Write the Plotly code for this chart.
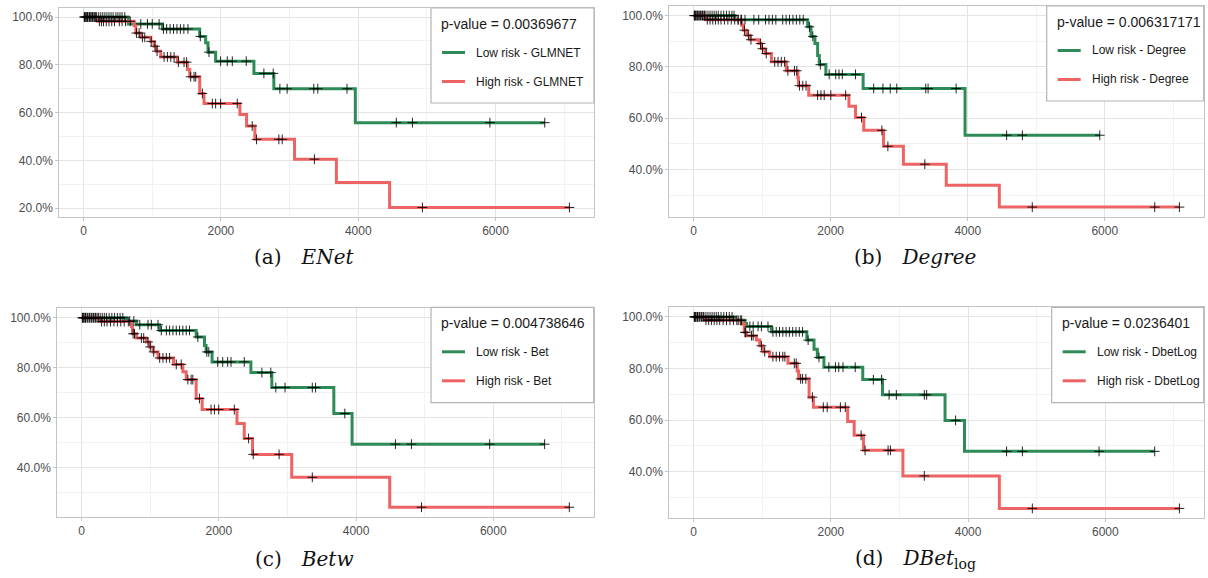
import plotly.graph_objects as go

# ---------------- data: Kaplan-Meier step curves (time in days, survival in %) ----------------
# (a) ENet
enet_low_t = [650, 1148, 1691, 1778, 1812, 1923, 2481, 2771, 3958]
enet_low_s = [97.1, 95.0, 91.9, 89.2, 85.3, 81.5, 76.4, 70.0, 55.8]
enet_low_cens = [15, 40, 60, 85, 110, 130, 160, 190, 220, 250, 280, 310, 340, 370, 400, 430, 470,
                 500, 530, 560, 600, 833, 930, 1000, 1100, 1163, 1210, 1260, 1310, 1360, 1410, 1460,
                 1520, 1700, 1826, 1996, 2093, 2166, 2369, 2626, 2762, 2859, 2965, 3353, 3411, 3837,
                 4555, 4790, 5918, 6717]
enet_high_t = [203, 736, 761, 833, 979, 1027, 1061, 1124, 1366, 1512, 1546, 1691, 1754, 2277,
               2374, 2495, 3072, 3682, 4457]
enet_high_s = [98.2, 96.5, 93.3, 91.5, 89.8, 87.8, 85.7, 83.3, 81.1, 78.0, 75.0, 68.0, 63.8, 59.2,
               54.4, 48.8, 40.5, 30.7, 20.3]
enet_high_cens = [10, 30, 55, 80, 105, 140, 175, 230, 260, 290, 330, 370, 410, 450, 520, 560, 610,
                  680, 770, 809, 857, 891, 985, 1040, 1070, 1172, 1221, 1270, 1318, 1381, 1463, 1500,
                  1560, 1609, 1633, 1730, 1875, 1923, 1996, 2238, 2456, 2519, 2844, 2893, 3362, 4935,
                  7076]
enet_pvalue = "0.00369677"

# (b) Degree
deg_low_t = [606, 1665, 1713, 1771, 1810, 1834, 1930, 2474, 3961]
deg_low_s = [98.4, 95.6, 91.9, 89.1, 84.5, 80.9, 77.1, 71.6, 53.4]
deg_low_cens = [15, 35, 60, 90, 120, 150, 180, 210, 240, 270, 300, 330, 360, 400, 440, 480, 520,
                560, 590, 650, 700, 750, 880, 950, 1050, 1100, 1150, 1200, 1300, 1350, 1400, 1450,
                1500, 1550, 1600, 1690, 1740, 1850, 1978, 2074, 2122, 2170, 2363, 2628, 2763, 2869,
                2965, 3388, 3422, 3831, 4568, 4798, 5927]
deg_high_t = [173, 703, 727, 775, 823, 953, 991, 1040, 1136, 1352, 1521, 1530, 1680, 2267, 2363,
              2483, 2772, 3061, 3687, 4461]
deg_high_s = [98.4, 96.2, 94.3, 92.3, 90.6, 89.1, 87.1, 85.2, 82.0, 78.5, 75.8, 72.7, 69.0, 64.7,
              60.3, 55.3, 49.1, 42.1, 33.9, 25.4]
deg_high_cens = [10, 30, 50, 75, 100, 130, 160, 200, 240, 280, 320, 360, 400, 450, 500, 550, 600,
                 650, 690, 742, 799, 837, 977, 1005, 1060, 1184, 1232, 1280, 1328, 1376, 1472, 1506,
                 1545, 1593, 1641, 1810, 1858, 1906, 2002, 2219, 2450, 2748, 2835, 3374, 4942, 6729,
                 7089]
deg_pvalue = "0.006317171"

# (c) Betw
bet_low_t = [653, 798, 1137, 1669, 1790, 1814, 1901, 2467, 2772, 3676, 3942]
bet_low_s = [98.7, 97.2, 94.9, 92.3, 88.9, 86.3, 82.3, 78.0, 72.0, 61.6, 49.3]
bet_low_cens = [15, 35, 60, 90, 120, 150, 180, 210, 240, 270, 300, 330, 360, 400, 440, 480, 520,
                560, 600, 700, 760, 847, 967, 1016, 1113, 1161, 1234, 1282, 1330, 1379, 1427, 1475,
                1524, 1572, 1693, 1824, 1853, 1983, 2056, 2128, 2177, 2370, 2627, 2757, 2830, 2965,
                3362, 3410, 3836, 4574, 4807, 5948, 6749]
bet_high_t = [266, 726, 740, 798, 943, 992, 1040, 1113, 1340, 1475, 1524, 1669, 1756, 2264, 2370,
              2491, 3062, 4491]
bet_high_s = [98.5, 96.5, 93.6, 91.9, 90.3, 88.3, 86.3, 83.9, 81.3, 78.3, 75.2, 67.6, 63.2, 57.6,
              51.6, 45.2, 36.0, 24.0]
bet_high_cens = [10, 30, 55, 80, 110, 140, 170, 200, 240, 290, 330, 370, 420, 470, 520, 570, 620,
                 680, 750, 770, 870, 904, 967, 1000, 1050, 1137, 1185, 1234, 1282, 1379, 1451, 1548,
                 1596, 1620, 1717, 1886, 1935, 1998, 2225, 2433, 2501, 2878, 3362, 4954, 7109]
bet_pvalue = "0.004738646"

# (d) DBet_log
dbl_low_t = [604, 748, 772, 1132, 1650, 1755, 1803, 1899, 2465, 2753, 3664, 3947]
dbl_low_s = [98.7, 97.4, 96.3, 94.2, 91.0, 87.5, 84.3, 80.5, 75.7, 69.8, 59.9, 47.9]
dbl_low_cens = [15, 35, 60, 90, 120, 150, 180, 210, 240, 270, 300, 330, 360, 400, 440, 480, 520,
                560, 650, 700, 820, 868, 940, 988, 1084, 1156, 1204, 1252, 1300, 1348, 1396, 1444,
                1492, 1540, 1588, 1669, 1827, 1971, 2067, 2115, 2177, 2355, 2619, 2740, 2849, 2954,
                3362, 3396, 3818, 4561, 4791, 5908, 6719]
dbl_high_t = [173, 700, 739, 772, 916, 964, 1012, 1108, 1375, 1510, 1530, 1683, 1746, 2245, 2340,
              2475, 3050, 4455]
dbl_high_s = [98.7, 97.2, 94.0, 92.7, 91.0, 88.8, 86.5, 84.6, 82.0, 79.0, 76.0, 68.9, 65.0, 59.5,
              54.1, 48.3, 38.4, 25.8]
dbl_high_cens = [10, 30, 55, 80, 110, 140, 180, 220, 260, 300, 340, 380, 430, 480, 530, 580, 630,
                 680, 748, 760, 844, 868, 988, 1036, 1156, 1204, 1252, 1300, 1330, 1468, 1495, 1560,
                 1588, 1636, 1731, 1890, 1947, 2139, 2211, 2441, 2499, 2834, 2868, 3362, 4936, 7079]
dbl_pvalue = "0.0236401"

panel_names = ["GLMNET", "Degree", "Bet", "DbetLog"]
captions = ["(a)\u2003<i>ENet</i>", "(b)\u2003<i>Degree</i>", "(c)\u2003<i>Betw</i>",
            "(d)\u2003<i>DBet</i><sub>log</sub>"]

panels = [
    (enet_low_t, enet_low_s, enet_low_cens, enet_high_t, enet_high_s, enet_high_cens, enet_pvalue),
    (deg_low_t, deg_low_s, deg_low_cens, deg_high_t, deg_high_s, deg_high_cens, deg_pvalue),
    (bet_low_t, bet_low_s, bet_low_cens, bet_high_t, bet_high_s, bet_high_cens, bet_pvalue),
    (dbl_low_t, dbl_low_s, dbl_low_cens, dbl_high_t, dbl_high_s, dbl_high_cens, dbl_pvalue),
]

# ---------------- layout geometry (pixels) ----------------
W, H = 1208, 578
# (left, right, top, bottom) of each panel box
boxes = [(59.3, 593.7, 7.5, 217.0), (669.3, 1203.7, 6.0, 216.7),
         (57.3, 593.7, 308.3, 516.7), (669.3, 1203.7, 307.3, 518.0)]
# (left, right, top, bottom) of each legend box
legend_boxes = [(431.0, 594.0, 8.0, 103.0), (1046.7, 1203.7, 6.0, 101.0),
                (431.0, 593.7, 307.3, 402.7), (1051.7, 1203.7, 307.3, 402.7)]
caption_xy = [(304, 257), (915, 257), (304, 559), (915, 559)]

GREEN = "#2E8B57"
RED = "#EE6363"
SANS = "Liberation Sans, Arial, sans-serif"
TICK_FONT = dict(family=SANS, size=12, color="#4d4d4d")


def px(x):
    return x / W


def py(y):
    return 1 - y / H


def surv_at(t, times, surv):
    s = 100.0
    for ti, si in zip(times, surv):
        if ti <= t:
            s = si
    return s


def step_xy(times, surv, t_end):
    xs = [0] + list(times) + [t_end]
    ys = [100.0] + list(surv) + [surv[-1]]
    return xs, ys


fig = go.Figure()
layout = dict(width=W, height=H, margin=dict(l=0, r=0, t=0, b=0), autosize=False,
              paper_bgcolor="white", plot_bgcolor="white", showlegend=False,
              annotations=[], shapes=[])

for i, (lt, ls, lc, ht, hs, hc, pval) in enumerate(panels):
    n = "" if i == 0 else str(i + 1)
    xa, ya = "x" + n, "y" + n
    name = panel_names[i]

    lx, ly = step_xy(lt, ls, max(lc))
    hx, hy = step_xy(ht, hs, max(hc))

    fig.add_trace(go.Scatter(x=lx, y=ly, mode="lines", line=dict(color=GREEN, width=3, shape="hv"),
                             name="Low risk - " + name, xaxis=xa, yaxis=ya, hoverinfo="skip"))
    fig.add_trace(go.Scatter(x=hx, y=hy, mode="lines", line=dict(color=RED, width=3, shape="hv"),
                             name="High risk - " + name, xaxis=xa, yaxis=ya, hoverinfo="skip"))
    for times, surv, cens in ((lt, ls, lc), (ht, hs, hc)):
        fig.add_trace(go.Scatter(
            x=cens, y=[surv_at(c, times, surv) for c in cens], mode="markers",
            marker=dict(symbol="cross-thin", size=7, line=dict(color="rgba(0,0,0,0.85)", width=1)),
            xaxis=xa, yaxis=ya, hoverinfo="skip"))

    # axis ranges with 5% expansion like ggplot
    xmax = max(max(lc), max(hc))
    ymin = min(min(ls), min(hs))
    yspan = 100.0 - ymin
    l, r, t, b = boxes[i]
    axis_common = dict(showline=True, mirror=True, linecolor="#c4c4c4", linewidth=1,
                       zeroline=False, showgrid=True, gridcolor="#e4e4e4", gridwidth=1,
                       ticks="outside", ticklen=3, tickcolor="#c4c4c4", tickfont=TICK_FONT)
    layout["xaxis" + n] = dict(domain=[px(l), px(r)], anchor=ya,
                               range=[-0.05 * xmax, 1.05 * xmax], tick0=0, dtick=2000,
                               minor=dict(dtick=1000, showgrid=True, gridcolor="#f2f2f2", ticks=""),
                               **axis_common)
    layout["yaxis" + n] = dict(domain=[py(b), py(t)], anchor=xa,
                               range=[ymin - 0.05 * yspan, 100 + 0.05 * yspan], tick0=0, dtick=20,
                               tickformat=".1f", ticksuffix="%",
                               minor=dict(dtick=10, showgrid=True, gridcolor="#f2f2f2", ticks=""),
                               **axis_common)

    # legend box: p-value title and one line sample per risk group
    bl, br, bt, bb = legend_boxes[i]
    layout["shapes"].append(dict(type="rect", xref="paper", yref="paper",
                                 x0=px(bl), x1=px(br), y0=py(bb), y1=py(bt),
                                 fillcolor="white", line=dict(color="#b5b5b5", width=1.2)))
    layout["annotations"].append(dict(
        text="p-value = " + pval, x=px(bl + 8), y=py(bt + 16), xref="paper", yref="paper",
        xanchor="left", yanchor="middle", showarrow=False,
        font=dict(family=SANS, size=14, color="#1a1a1a")))
    for label, color, dy in (("Low risk - " + name, GREEN, 44.5), ("High risk - " + name, RED, 73.5)):
        layout["shapes"].append(dict(type="line", xref="paper", yref="paper",
                                     x0=px(bl + 11), x1=px(bl + 34), y0=py(bt + dy), y1=py(bt + dy),
                                     line=dict(color=color, width=3)))
        layout["annotations"].append(dict(
            text=label, x=px(bl + 43), y=py(bt + dy), xref="paper", yref="paper",
            xanchor="left", yanchor="middle", showarrow=False,
            font=dict(family=SANS, size=12, color="#1a1a1a")))

    cx, cy = caption_xy[i]
    layout["annotations"].append(dict(
        text=captions[i], x=px(cx), y=py(cy), xref="paper", yref="paper",
        xanchor="center", yanchor="middle", showarrow=False,
        font=dict(family="DejaVu Serif, serif", size=20, color="#111111")))

fig.update_layout(**layout)
fig.write_html("out.html")
